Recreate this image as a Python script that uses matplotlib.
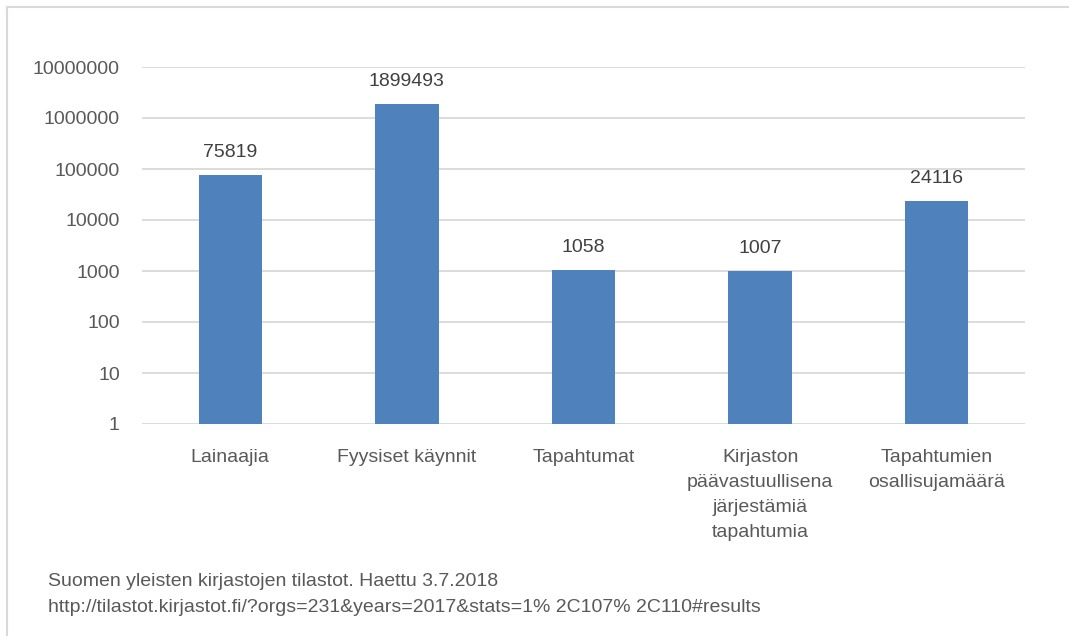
import matplotlib.pyplot as plt
from matplotlib import font_manager
from matplotlib.lines import Line2D

# values
categories = [
    "Lainaajia",
    "Fyysiset käynnit",
    "Tapahtumat",
    "Kirjaston\npäävastuullisena\njärjestämiä\ntapahtumia",
    "Tapahtumien\nosallisujamäärä",
]
values = [75819, 1899493, 1058, 1007, 24116]
y_ticks = [1, 10, 100, 1000, 10000, 100000, 1000000, 10000000]
source_lines = [
    "Suomen yleisten kirjastojen tilastot. Haettu 3.7.2018",
    "http://tilastot.kirjastot.fi/?orgs=231&years=2017&stats=1% 2C107% 2C110#results",
]

BAR_COLOR = "#4F81BD"
GRID_COLOR = "#D9D9D9"
TEXT_COLOR = "#595959"
LABEL_COLOR = "#404040"

names = {f.name for f in font_manager.fontManager.ttflist}
family = "Liberation Sans Narrow" if "Liberation Sans Narrow" in names else "Liberation Sans"
plt.rcParams["font.family"] = [family, "DejaVu Sans"]
FS = 14

W, H = 1069, 637
fig = plt.figure(figsize=(W / 100, H / 100), dpi=100)
ax = fig.add_axes([142 / W, 1 - 424 / H, (1025 - 142) / W, (424 - 67) / H])

x = list(range(len(categories)))
ax.bar(x, values, width=0.36, color=BAR_COLOR, zorder=3)
ax.set_yscale("log")
ax.set_ylim(1, 1e7)
ax.set_xlim(-0.5, len(categories) - 0.5)

ax.set_yticks(y_ticks)
ax.set_yticklabels([str(t) for t in y_ticks])
ax.minorticks_off()
ax.yaxis.grid(True, color=GRID_COLOR, linewidth=1.3, zorder=0)
ax.set_xticks(x)
ax.set_xticklabels(categories, linespacing=1.62)
ax.tick_params(axis="y", length=0, pad=16, labelsize=FS, labelcolor=TEXT_COLOR)
ax.tick_params(axis="x", length=0, pad=18, labelsize=FS, labelcolor=TEXT_COLOR)
for s in ax.spines.values():
    s.set_visible(False)

for xi, v in zip(x, values):
    ax.annotate(str(v), (xi, v), xytext=(0, 10), textcoords="offset points",
                ha="center", va="bottom", fontsize=FS, color=LABEL_COLOR)

# source note
fig.text(48 / W, 1 - 581 / H, source_lines[0], ha="left", va="center", fontsize=FS, color=TEXT_COLOR)
fig.text(48 / W, 1 - 607 / H, source_lines[1], ha="left", va="center", fontsize=FS, color=TEXT_COLOR)

# frame edges (only top and left are visible in the crop)
fig.add_artist(Line2D([7 / W, 1], [1 - 7 / H, 1 - 7 / H], transform=fig.transFigure,
                      color=GRID_COLOR, linewidth=1.5))
fig.add_artist(Line2D([7 / W, 7 / W], [1 - 7 / H, 1 - 635 / H], transform=fig.transFigure,
                      color=GRID_COLOR, linewidth=1.5))

fig.savefig("out.png", dpi=100, facecolor="white")
